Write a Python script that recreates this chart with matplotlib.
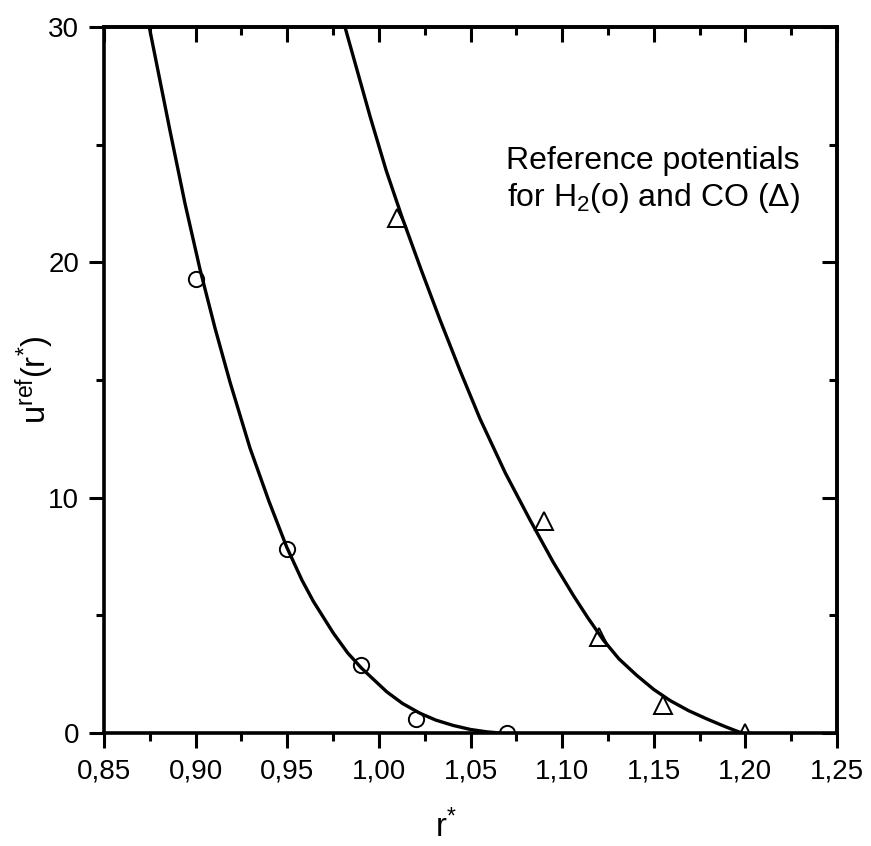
import matplotlib
matplotlib.use("Agg")
import matplotlib.pyplot as plt
from matplotlib.ticker import FixedLocator, FixedFormatter, MultipleLocator

plt.rcParams['font.family'] = ['Liberation Sans', 'DejaVu Sans']
plt.rcParams['mathtext.fontset'] = 'custom'
plt.rcParams['mathtext.rm'] = 'Liberation Sans'
plt.rcParams['mathtext.it'] = 'Liberation Sans'

# H2 reference potential: data points (circles) and fitted curve
h2_r = [0.90, 0.95, 0.99, 1.02, 1.07]
h2_u = [19.3, 7.8, 2.9, 0.6, 0.0]
h2_curve_r = [0.8747, 0.886, 0.8942, 0.9024, 0.9106, 0.9188, 0.9297, 0.9400,
              0.9497, 0.9580, 0.9642, 0.9751, 0.9830, 0.9906, 1.0043, 1.0130,
              1.0224, 1.0310, 1.0406, 1.0500, 1.0588, 1.0661]
h2_curve_u = [30.0, 25.6, 22.5, 19.7, 17.2, 14.9, 12.1, 9.85,
              7.9, 6.5, 5.6, 4.25, 3.4, 2.75, 1.75, 1.25,
              0.84, 0.55, 0.32, 0.15, 0.05, 0.0]

# CO reference potential: data points (triangles) and fitted curve
co_r = [1.01, 1.09, 1.12, 1.155, 1.20]
co_u = [21.9, 9.0, 4.1, 1.2, 0.0]
co_curve_r = [0.9815, 0.9952, 1.0040, 1.0125, 1.0230, 1.0334, 1.0443, 1.0552, 1.0690,
              1.0825, 1.0952, 1.1061, 1.1140, 1.1225, 1.1310, 1.1407, 1.1500,
              1.1589, 1.1690, 1.1789, 1.1890, 1.198]
co_curve_u = [30.0, 26.2, 23.9, 21.95, 19.7, 17.55, 15.4, 13.35, 11.05,
              9.05, 7.25, 5.85, 4.9, 3.95, 3.15, 2.45, 1.85,
              1.38, 0.95, 0.6, 0.27, 0.0]

xticks = [0.85, 0.90, 0.95, 1.00, 1.05, 1.10, 1.15, 1.20, 1.25]
xtick_labels = ['0,85', '0,90', '0,95', '1,00', '1,05', '1,10', '1,15', '1,20', '1,25']
yticks = [0, 10, 20, 30]
ytick_labels = ['0', '10', '20', '30']

fig = plt.figure(figsize=(8.71, 8.46), dpi=100)
ax = fig.add_axes([104/871, 1-733/846, (837-104)/871, (733-27)/846])

ax.plot(h2_curve_r, h2_curve_u, color='black', lw=2.4, solid_joinstyle='round', zorder=3)
ax.plot(co_curve_r, co_curve_u, color='black', lw=2.4, solid_joinstyle='round', zorder=3)
ax.plot(h2_r, h2_u, linestyle='none', marker='o', ms=11, mfc='white', mec='black', mew=1.4, zorder=2)
ax.plot(co_r, co_u, linestyle='none', marker='^', ms=13, mfc='white', mec='black', mew=1.4, zorder=2)

ax.set_xlim(0.85, 1.25)
ax.set_ylim(0, 30)
ax.xaxis.set_major_locator(FixedLocator(xticks))
ax.xaxis.set_major_formatter(FixedFormatter(xtick_labels))
ax.xaxis.set_minor_locator(MultipleLocator(0.025))
ax.yaxis.set_major_locator(FixedLocator(yticks))
ax.yaxis.set_major_formatter(FixedFormatter(ytick_labels))
ax.yaxis.set_minor_locator(MultipleLocator(5))

for s in ax.spines.values():
    s.set_linewidth(2.6)

ax.tick_params(which='both', direction='out', top=False, right=False, width=2.2, labelsize=20)
ax.tick_params(which='major', length=11, pad=7)
ax.tick_params(which='minor', length=6)

# inward ticks on top and right
axt = ax.secondary_xaxis('top')
axt.xaxis.set_major_locator(FixedLocator(xticks))
axt.xaxis.set_minor_locator(MultipleLocator(0.025))
axt.tick_params(which='both', direction='in', width=2.2, labeltop=False)
axt.tick_params(which='major', length=11)
axt.tick_params(which='minor', length=6)
axt.spines['top'].set_linewidth(2.6)
axr = ax.secondary_yaxis('right')
axr.yaxis.set_major_locator(FixedLocator(yticks))
axr.yaxis.set_minor_locator(MultipleLocator(5))
axr.tick_params(which='both', direction='in', width=2.2, labelright=False)
axr.tick_params(which='major', length=11)
axr.tick_params(which='minor', length=6)
axr.spines['right'].set_linewidth(2.6)

ax.set_xlabel(r'r$^{*}$', fontsize=23.5)
ax.xaxis.set_label_coords(0.467, -0.108)
ax.set_ylabel(r'u$^{\rm ref}$(r$^{*}$)', fontsize=23.5)
ax.yaxis.set_label_coords(-0.066, 0.5)

ax.text(0.9495, 0.832, 'Reference potentials\nfor H$_2$(o) and CO (Δ)', transform=ax.transAxes,
        ha='right', va='top', fontsize=23, linespacing=1.2)

fig.savefig('out.png', dpi=100)
